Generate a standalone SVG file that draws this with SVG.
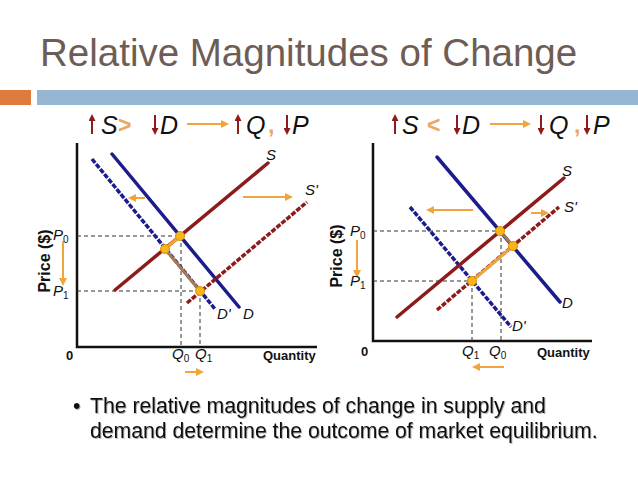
<svg xmlns="http://www.w3.org/2000/svg" width="638" height="479" viewBox="0 0 638 479">
<style>
.title{font-family:"Liberation Sans",Arial,sans-serif;font-size:38.5px;fill:#6e5d55}
.hdr{font-family:"Liberation Sans",Arial,sans-serif;font-size:25px;font-style:italic;fill:#111}
.op{font-family:"Liberation Sans",Arial,sans-serif;font-size:23px;font-weight:bold;fill:#e8a866}
.lbl{font-family:"Liberation Sans",Arial,sans-serif;font-size:13px;font-weight:bold;fill:#111}
.it{font-family:"Liberation Sans",Arial,sans-serif;font-size:15px;font-style:italic;fill:#111}
.sub{font-size:10px;font-style:normal}
.body{font-family:"Liberation Sans",Arial,sans-serif;font-size:21.2px;fill:#111}
.ax{stroke:#111;stroke-width:2.5;fill:none}
.gd{stroke:#333;stroke-width:1;stroke-dasharray:4 3;fill:none}
.sup{stroke:#8e1b1b;stroke-width:3.5;fill:none;stroke-linecap:round}
.supd{stroke:#8e1b1b;stroke-width:3.5;fill:none;stroke-dasharray:5 1.5}
.dem{stroke:#1c1c8c;stroke-width:3.5;fill:none;stroke-linecap:round}
.demd{stroke:#1c1c8c;stroke-width:3.5;fill:none;stroke-dasharray:5 1.5}
.oa{stroke:#f0a53c;stroke-width:2;fill:none;marker-end:url(#ao)}
.ra{stroke:#8e1b1b;stroke-width:2;fill:none;marker-end:url(#ar)}
.dot{fill:#f7b51c;stroke:#e09400;stroke-width:1}
.path1{stroke:#f0a53c;stroke-width:3;fill:none}
.path2{stroke:#a87a50;stroke-width:3;fill:none}
</style>
<defs>
<marker id="ao" markerWidth="8" markerHeight="8" refX="6" refY="4" orient="auto" markerUnits="userSpaceOnUse"><path d="M0,0 L8,4 L0,8 Z" fill="#f0a53c"/></marker>
<marker id="ar" markerWidth="7" markerHeight="7" refX="5" refY="3.5" orient="auto" markerUnits="userSpaceOnUse"><path d="M0,0 L7,3.5 L0,7 Z" fill="#8e1b1b"/></marker>
<filter id="sh" x="-5%" y="-20%" width="110%" height="140%"><feDropShadow dx="1" dy="1" stdDeviation="0.6" flood-color="#000" flood-opacity="0.3"/></filter>
</defs>
<rect width="638" height="479" fill="#fff"/>
<g id="title"><text class="title" x="40" y="66">Relative Magnitudes of Change</text></g>
<g id="bars"><rect x="0" y="90" width="31" height="15" fill="#e07b3e"/><rect x="37" y="90" width="601" height="15" fill="#94b6d3"/></g>

<g id="left-header">
<path class="ra" d="M92,134 V116"/>
<text class="hdr" x="101" y="134">S</text>
<text class="op" x="118" y="133">&gt;</text>
<path class="ra" d="M155,115 V133"/>
<text class="hdr" x="160" y="134">D</text>
<path class="oa" d="M187,124 H227"/>
<path class="ra" d="M238,134 V116"/>
<text class="hdr" x="246" y="134">Q</text>
<text class="op" x="268" y="133">,</text>
<path class="ra" d="M287,115 V133"/>
<text class="hdr" x="292" y="134">P</text>
</g>

<g id="left-chart">
<path class="ax" d="M77,143 V347 H317"/>
<path class="gd" d="M77,236 H180 M77,291 H200 M181,236 V347 M200,291 V347"/>
<line class="demd" x1="92" y1="159" x2="215" y2="309"/>
<line class="dem" x1="112" y1="154" x2="239" y2="307"/>
<line class="sup" x1="115" y1="290" x2="268" y2="163"/>
<line class="supd" x1="187" y1="303" x2="307" y2="202"/>
<path class="path1" d="M180,236 L165,249"/>
<path class="path2" d="M165,249 L200,291"/>
<circle class="dot" cx="180" cy="236" r="4.5"/>
<circle class="dot" cx="165" cy="249" r="4.5"/>
<circle class="dot" cx="200" cy="291" r="4.5"/>
<path class="oa" d="M145,198 H130"/>
<path class="oa" d="M243,197 H291"/>
<path class="oa" d="M63,241 V284"/>
<path class="oa" d="M185,372 H202"/>
<text class="it" x="266" y="160">S</text>
<text class="it" x="305" y="195">S'</text>
<text class="it" x="217" y="319">D'</text>
<text class="it" x="243" y="319">D</text>
<text class="it" x="53" y="240">P<tspan class="sub" dy="3">0</tspan></text>
<text class="it" x="53" y="296">P<tspan class="sub" dy="3">1</tspan></text>
<text class="lbl" transform="translate(50,261) rotate(-90)" text-anchor="middle" style="font-size:16px">Price ($)</text>
<text class="lbl" x="66" y="360">0</text>
<text class="it" x="172" y="359">Q<tspan class="sub" dy="3">0</tspan></text>
<text class="it" x="195" y="359">Q<tspan class="sub" dy="3">1</tspan></text>
<text class="lbl" x="263" y="360">Quantity</text>
</g>

<g id="right-header">
<path class="ra" d="M395,134 V116"/>
<text class="hdr" x="402" y="134">S</text>
<text class="op" x="427" y="133">&lt;</text>
<path class="ra" d="M457,115 V133"/>
<text class="hdr" x="462" y="134">D</text>
<path class="oa" d="M490,124 H529"/>
<path class="ra" d="M541,115 V133"/>
<text class="hdr" x="549" y="134">Q</text>
<text class="op" x="574" y="133">,</text>
<path class="ra" d="M587,115 V133"/>
<text class="hdr" x="593" y="134">P</text>
</g>

<g id="right-chart">
<path class="ax" d="M373,143 V341 H592"/>
<path class="gd" d="M373,231 H500 M373,281 H472 M501,231 V341 M472,281 V341"/>
<line class="dem" x1="437" y1="157" x2="560" y2="302"/>
<line class="demd" x1="410" y1="207" x2="511" y2="327"/>
<line class="sup" x1="397" y1="317" x2="564" y2="178"/>
<line class="supd" x1="437" y1="310" x2="559" y2="207"/>
<path class="path2" d="M500,231 L513,246"/>
<path class="path1" d="M513,246 L472,281"/>
<circle class="dot" cx="500" cy="231" r="4.5"/>
<circle class="dot" cx="513" cy="246" r="4.5"/>
<circle class="dot" cx="472" cy="281" r="4.5"/>
<path class="oa" d="M473,210 H428"/>
<path class="oa" d="M531,213 H547"/>
<path class="oa" d="M357,240 V276"/>
<path class="oa" d="M504,367 H474"/>
<text class="it" x="562" y="176">S</text>
<text class="it" x="564" y="212">S'</text>
<text class="it" x="562" y="308">D</text>
<text class="it" x="512" y="331">D'</text>
<text class="it" x="350" y="236">P<tspan class="sub" dy="3">0</tspan></text>
<text class="it" x="350" y="286">P<tspan class="sub" dy="3">1</tspan></text>
<text class="lbl" transform="translate(342,256) rotate(-90)" text-anchor="middle" style="font-size:16px">Price ($)</text>
<text class="lbl" x="361" y="356">0</text>
<text class="it" x="462" y="356">Q<tspan class="sub" dy="3">1</tspan></text>
<text class="it" x="489" y="356">Q<tspan class="sub" dy="3">0</tspan></text>
<text class="lbl" x="537" y="357">Quantity</text>
</g>

<g id="bullet" filter="url(#sh)">
<text class="body" x="73" y="413">•</text>
<text class="body" x="90" y="413">The relative magnitudes of change in supply and</text>
<text class="body" x="90" y="438">demand determine the outcome of market equilibrium.</text>
</g>
</svg>
